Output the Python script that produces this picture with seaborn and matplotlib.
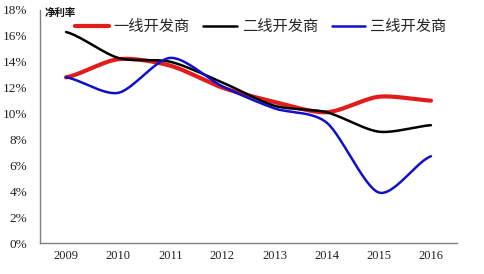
import numpy as np
import pandas as pd
import matplotlib
matplotlib.use("Agg")
import matplotlib.pyplot as plt
import seaborn as sns

years = ["2009", "2010", "2011", "2012", "2013", "2014", "2015", "2016"]
tier1 = [12.8, 14.2, 13.7, 12.0, 10.9, 10.1, 11.3, 11.0]
tier2 = [16.3, 14.3, 14.0, 12.4, 10.6, 10.1, 8.6, 9.1]
tier3 = [12.8, 11.6, 14.3, 12.1, 10.4, 9.3, 3.9, 6.7]
series_names = ["一线开发商", "二线开发商", "三线开发商"]
colors = ["#e21b1b", "#000000", "#1010c8"]
widths = [3.0, 1.8, 1.8]
yticks = [0, 2, 4, 6, 8, 10, 12, 14, 16, 18]


def smooth(xs, ys, n=30):
    # Catmull-Rom style smoothing (like Excel smoothed lines), for rendering only
    xs = np.asarray(xs, float)
    ys = np.asarray(ys, float)
    px = np.concatenate([[2 * xs[0] - xs[1]], xs, [2 * xs[-1] - xs[-2]]])
    py = np.concatenate([[ys[0]], ys, [ys[-1]]])
    outx, outy = [], []
    for i in range(1, len(px) - 2):
        t = np.linspace(0, 1, n, endpoint=False)
        for arr, out in ((px, outx), (py, outy)):
            p0, p1, p2, p3 = arr[i - 1], arr[i], arr[i + 1], arr[i + 2]
            m1 = (p2 - p0) / 2 * 0.83
            m2 = (p3 - p1) / 2 * 0.83
            h00 = 2 * t**3 - 3 * t**2 + 1
            h10 = t**3 - 2 * t**2 + t
            h01 = -2 * t**3 + 3 * t**2
            h11 = t**3 - t**2
            out.extend(h00 * p1 + h10 * m1 + h01 * p2 + h11 * m2)
    outx.append(xs[-1])
    outy.append(ys[-1])
    return np.array(outx), np.array(outy)


sns.set_theme(style="white")
plt.rcParams["font.family"] = ["Liberation Serif", "Noto Sans CJK SC"]

fig = plt.figure(figsize=(4.84, 2.74), dpi=100)
ax = fig.add_axes([40 / 484, 1 - 243 / 274, (457 - 40) / 484, (243 - 10) / 274])

xpos = np.arange(len(years))
frames = []
for name, vals in zip(series_names, [tier1, tier2, tier3]):
    sx, sy = smooth(xpos, vals)
    frames.append(pd.DataFrame({"x": sx, "y": sy, "series": name}))
df = pd.concat(frames, ignore_index=True)

for name, c, lw in zip(series_names, colors, widths):
    sns.lineplot(data=df[df.series == name], x="x", y="y", color=c, linewidth=lw,
                 ax=ax, label=name, sort=False, estimator=None)

ax.set_xlim(-0.5, len(years) - 0.5)
ax.set_ylim(0, 18)
ax.set_yticks(yticks)
ax.set_yticklabels([f"{v}%" for v in yticks], fontsize=9.5, family="Liberation Serif")
ax.set_xticks(xpos)
ax.set_xticklabels(years, fontsize=9, family="Liberation Serif")
ax.set_xticks(np.arange(len(years)) + 0.5, minor=True)
ax.tick_params(axis="x", which="major", length=0, pad=5, colors="#222222")
ax.tick_params(axis="x", which="minor", length=3, direction="in", color="#808080", width=0.8)
ax.tick_params(axis="y", which="major", length=3, direction="out", width=0.8, pad=6)
ax.tick_params(axis="y", colors="#808080", labelcolor="#222222")
ax.set_xlabel("")
ax.set_ylabel("")
for side in ["top", "right"]:
    ax.spines[side].set_visible(False)
for side in ["left", "bottom"]:
    ax.spines[side].set_color("#808080")
    ax.spines[side].set_linewidth(1.0)

ax.text(0.012, 0.987, "净利率", transform=ax.transAxes, fontsize=7.5, fontweight="bold",
        family=["Noto Sans CJK SC"], va="center", ha="left", color="#111111")

leg = ax.legend(loc="upper left", bbox_to_anchor=(0.07, 0.99), ncol=3, frameon=False,
                prop={"family": "Noto Sans CJK SC", "size": 11}, handlelength=2.2,
                handletextpad=0.3, columnspacing=0.9, borderaxespad=0)

fig.savefig("out.png", dpi=100)
